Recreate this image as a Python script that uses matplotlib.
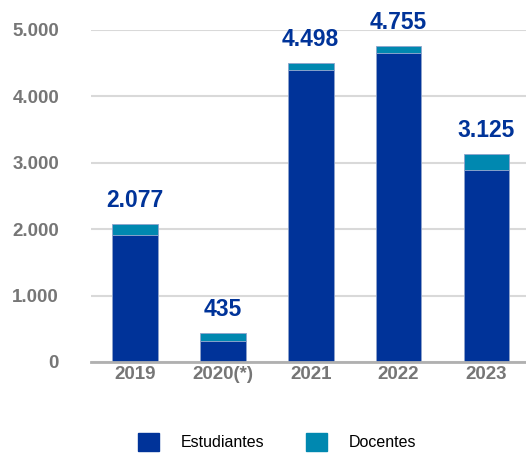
import matplotlib.pyplot as plt
from matplotlib.patches import Patch
import numpy as np

anios = ['2019', '2020(*)', '2021', '2022', '2023']
totales = [2077, 435, 4498, 4755, 3125]
estudiantes = [1920, 310, 4400, 4650, 2890]
docentes = [t - e for t, e in zip(totales, estudiantes)]
etiquetas = ['2.077', '435', '4.498', '4.755', '3.125']
yticks = [0, 1000, 2000, 3000, 4000, 5000]
ylabels = ['0', '1.000', '2.000', '3.000', '4.000', '5.000']

plt.rcParams['font.family'] = ['Liberation Sans', 'DejaVu Sans']

bleu = '#003399'
cyan = '#0088b0'
gris = '#767676'

fig = plt.figure(figsize=(5.26, 4.58), dpi=100)
ax = fig.add_axes([91/526, 96/458, 435/526, 332/458])

x = np.arange(len(anios))
ax.bar(x, estudiantes, width=0.52, color=bleu, edgecolor='#8fa3cc', linewidth=0.6, zorder=3)
ax.bar(x, docentes, bottom=estudiantes, width=0.52, color=cyan, edgecolor='#8fa3cc', linewidth=0.6, zorder=3)

# étiquettes des totaux
for i in range(len(x)):
    ax.annotate(etiquetas[i], (x[i], totales[i]), xytext=(0, 9), textcoords='offset points',
                ha='center', va='bottom', color=bleu, fontsize=16.5, fontweight='bold')

ax.set_xlim(-0.5, 4.45)
ax.set_ylim(0, 5000)
ax.set_yticks(yticks)
ax.set_yticklabels(ylabels)
ax.set_xticks(x)
ax.set_xticklabels(anios)
ax.tick_params(length=0, labelsize=13.5, labelcolor=gris)
ax.tick_params(axis='y', pad=23)
ax.tick_params(axis='x', pad=3)
for lab in ax.get_xticklabels() + ax.get_yticklabels():
    lab.set_fontweight('bold')
ax.grid(axis='y', color='#d9d9d9', linewidth=1.5, zorder=0)
for s in ['top', 'right', 'left']:
    ax.spines[s].set_visible(False)
ax.spines['bottom'].set_color('#b0b0b0')
ax.spines['bottom'].set_linewidth(2)
ax.spines['bottom'].set_zorder(4)

poignees = [Patch(color=bleu), Patch(color=cyan)]
fig.legend(poignees, ['Estudiantes', 'Docentes'], loc='center', bbox_to_anchor=(0.527, 0.035),
           ncol=2, frameon=False, fontsize=11.5, handlelength=1.3, handleheight=1.3,
           handletextpad=1.4, columnspacing=2.6)

plt.savefig('out.png', dpi=100)
